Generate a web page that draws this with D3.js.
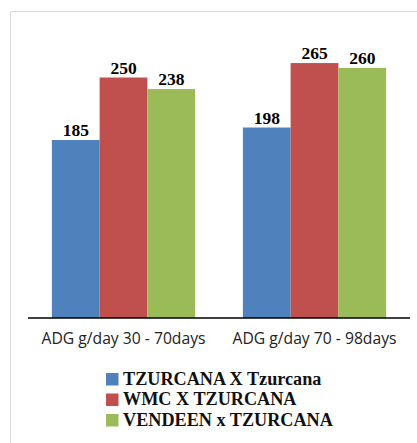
<!DOCTYPE html>
<html>
<head>
<meta charset="utf-8">
<script src="https://cdn.jsdelivr.net/npm/d3@7"></script>
<style>
  body { margin: 0; background: #fff; }
</style>
</head>
<body>
<div id="chart"></div>
<script>
// chart data
var categories = ['ADG g/day 30 - 70days', 'ADG g/day 70 - 98days'];
var seriesNames = ['TZURCANA X Tzurcana', 'WMC X TZURCANA', 'VENDEEN x TZURCANA'];
var tzurcanaVals = [185, 198];
var wmcVals = [250, 265];
var vendeenVals = [238, 260];
var seriesColors = ['#4F81BD', '#C0504D', '#9BBB59'];
var yMax = 300;

var W = 417, H = 443;
var svg = d3.select('#chart').append('svg')
    .attr('width', W)
    .attr('height', H);

// outer frame (only top and left edges show in the crop)
svg.append('path')
    .attr('d', 'M10.5,' + H + ' V11.5 H' + W)
    .attr('fill', 'none')
    .attr('stroke', '#d9d9d9')
    .attr('stroke-width', 1);

var plot = { left: 28, right: 410, top: 30, bottom: 318 };

var allSeries = [tzurcanaVals, wmcVals, vendeenVals];
var table = [];
categories.forEach(function(c, ci) {
    allSeries.forEach(function(vals, si) {
        table.push({ cat: c, series: seriesNames[si], si: si, value: vals[ci] });
    });
});

var x0 = d3.scaleBand()
    .domain(categories)
    .range([plot.left, plot.right])
    .paddingInner(0.25)
    .paddingOuter(0.125);

var x1 = d3.scaleBand()
    .domain(seriesNames)
    .range([0, x0.bandwidth()]);

var y = d3.scaleLinear()
    .domain([0, yMax])
    .range([plot.bottom, plot.bottom - yMax * 0.962]);

// bars
svg.append('g').selectAll('rect')
    .data(table)
    .enter().append('rect')
    .attr('x', d => x0(d.cat) + x1(d.series))
    .attr('y', d => y(d.value))
    .attr('width', x1.bandwidth())
    .attr('height', d => y(0) - y(d.value))
    .attr('fill', d => seriesColors[d.si]);

// value labels
svg.append('g').selectAll('text')
    .data(table)
    .enter().append('text')
    .attr('x', d => x0(d.cat) + x1(d.series) + x1.bandwidth() / 2)
    .attr('y', d => y(d.value) - 4)
    .attr('text-anchor', 'middle')
    .attr('font-family', "'Liberation Serif', 'Times New Roman', serif")
    .attr('font-weight', 'bold')
    .attr('font-size', '17.5px')
    .attr('fill', '#000')
    .text(d => d.value);

// x axis
var xAxis = svg.append('g')
    .attr('transform', 'translate(0,' + plot.bottom + ')')
    .call(d3.axisBottom(x0).tickSize(0).tickPadding(15));
xAxis.select('.domain').attr('stroke', '#000').attr('stroke-width', 1.3)
    .attr('d', 'M' + plot.left + ',0H' + plot.right);
xAxis.selectAll('text')
    .attr('font-family', "'Open Sans', sans-serif")
    .attr('font-size', '15.7px')
    .attr('fill', '#222');

// legend
var legend = svg.append('g').attr('transform', 'translate(106,373)');
var rows = legend.selectAll('g')
    .data(seriesNames)
    .enter().append('g')
    .attr('transform', (d, i) => 'translate(0,' + (i * 20.5) + ')');
rows.append('rect')
    .attr('width', 12.5)
    .attr('height', 12.5)
    .attr('fill', (d, i) => seriesColors[i]);
rows.append('text')
    .attr('x', 17)
    .attr('y', 11.8)
    .attr('font-family', "'Liberation Serif', 'Times New Roman', serif")
    .attr('font-weight', 'bold')
    .attr('font-size', '18.2px')
    .attr('fill', '#111')
    .text(d => d);
</script>
</body>
</html>
